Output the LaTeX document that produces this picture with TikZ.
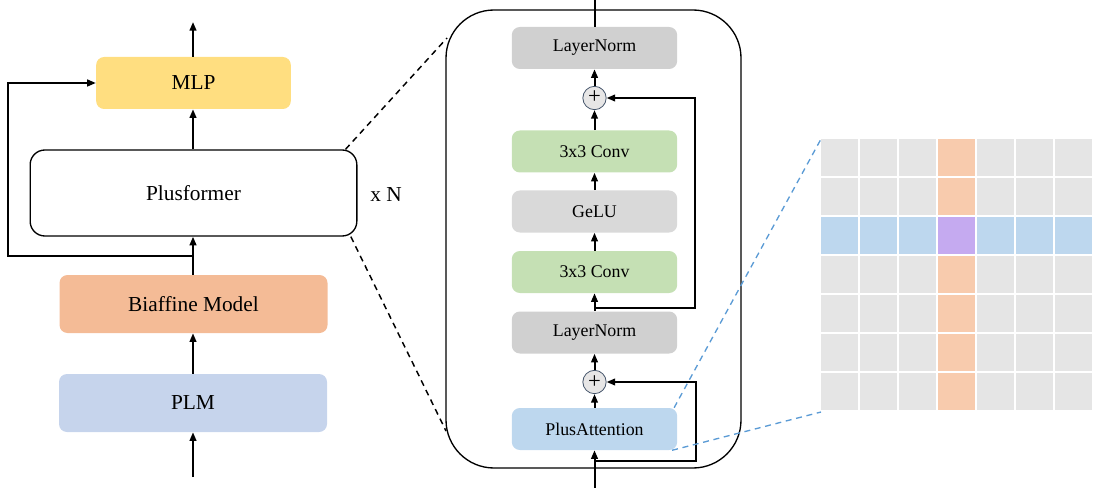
\documentclass[tikz,border=0pt]{standalone}
\usepackage{fontspec}
\setmainfont{Liberation Serif}
\usetikzlibrary{arrows.meta}
\definecolor{mlpY}{RGB}{255,222,128}
\definecolor{biafO}{RGB}{244,187,150}
\definecolor{plmB}{RGB}{198,212,236}
\definecolor{lnG}{RGB}{208,208,208}
\definecolor{geluG}{RGB}{217,217,217}
\definecolor{convG}{RGB}{197,224,180}
\definecolor{paB}{RGB}{189,215,238}
\definecolor{plusF}{RGB}{231,230,230}
\definecolor{plusD}{RGB}{68,84,106}
\definecolor{cellG}{RGB}{229,229,229}
\definecolor{cellO}{RGB}{248,203,173}
\definecolor{cellB}{RGB}{189,215,238}
\definecolor{cellP}{RGB}{197,170,240}
\definecolor{zoomB}{RGB}{91,155,213}
\begin{document}
\begin{tikzpicture}[x=0.75pt,y=-0.75pt,
  arr/.style={line width=1.5pt,-{Triangle[length=6.5pt,width=5pt]}},
  bigbox/.style={rounded corners=6pt,inner sep=0pt,font=\fontsize{16}{18}\selectfont},
  blk/.style={rounded corners=6pt,inner sep=0pt,minimum width=124pt,minimum height=31.5pt,font=\fontsize{13.4}{15}\selectfont},
  addop/.style={circle,draw=plusD,line width=0.6pt,fill=plusF,minimum size=17.5pt,inner sep=0pt,font=\fontsize{17}{17}\selectfont},
  zoomline/.style={dashed,line width=1pt,dash pattern=on 4.5pt off 3.5pt}]
\useasboundingbox (0,0) rectangle (1094,488);

% ---- left column: overall model ----
\node[bigbox,fill=mlpY,minimum width=146pt,minimum height=39pt] (mlp) at (193.5,83) {MLP};
\node[bigbox,draw,line width=1pt,fill=white,rounded corners=11pt,minimum width=245pt,minimum height=64.5pt] (pf) at (193.5,193) {Plusformer};
\node[bigbox,fill=biafO,minimum width=201pt,minimum height=43.5pt] (biaf) at (193.5,304) {Biaffine Model};
\node[bigbox,fill=plmB,minimum width=201pt,minimum height=43.5pt] (plm) at (193,403) {PLM};
\node[font=\fontsize{16}{18}\selectfont] (rep) at (386,195) {x N};

\coordinate (inL) at (193,477);
\coordinate (outL) at (193,22);
\coordinate (split) at (193,256);
\coordinate (skipL) at (8,256);

\draw[arr] (inL) -- (plm.south -| inL);
\draw[arr] (plm.north -| inL) -- (biaf.south -| inL);
\draw[arr] (biaf.north -| inL) -- (pf.south -| inL);
\draw[arr] (pf.north -| inL) -- (mlp.south -| inL);
\draw[arr] (mlp.north -| inL) -- (outL);
\draw[arr] (split) -- (skipL) |- (mlp.west);

% ---- middle: one Plusformer layer ----
\draw[line width=1pt,rounded corners=36pt] (446,10) rectangle (741,468);

\node[blk,fill=lnG] (ln1) at (594.5,48) {LayerNorm};
\node[addop] (add1) at (594.5,98) {\raisebox{0.6pt}{+}};
\node[blk,fill=convG] (conv1) at (594.5,151.5) {3x3 Conv};
\node[blk,fill=geluG] (gelu) at (594.5,211.5) {GeLU};
\node[blk,fill=convG] (conv2) at (594.5,272) {3x3 Conv};
\node[blk,fill=lnG] (ln2) at (594.5,332.5) {LayerNorm};
\node[addop] (add2) at (594.5,382) {\raisebox{0.6pt}{+}};
\node[blk,fill=paB] (pa) at (594.5,429) {PlusAttention};

\coordinate (inM) at (594.5,488);
\coordinate (outM) at (594.5,0);
\coordinate (r1) at (594.5,308);
\coordinate (r1c) at (695,308);
\coordinate (r2) at (594.5,461);
\coordinate (r2c) at (696,461);

\draw[arr] (inM) -- (pa.south);
\draw[arr] (pa.north) -- (add2.south);
\draw[arr] (add2.north) -- (ln2.south);
\draw[arr] (ln2.north) -- (conv2.south);
\draw[arr] (conv2.north) -- (gelu.south);
\draw[arr] (gelu.north) -- (conv1.south);
\draw[arr] (conv1.north) -- (add1.south);
\draw[arr] (add1.north) -- (ln1.south);
\draw[line width=1.5pt] (ln1.north) -- (outM);
\draw[arr] (r1) -- (r1c) |- (add1.east);
\draw[arr] (r2) -- (r2c) |- (add2.east);

% ---- zoom guides from the Plusformer block ----
\coordinate (frTop) at (447,38);
\coordinate (frBot) at (446,431);
\draw[zoomline,line width=1.1pt] ([xshift=-9pt]pf.north east) -- (frTop);
\draw[zoomline,line width=1.1pt] ([xshift=-5pt]pf.south east) -- (frBot);

% ---- attention pattern grid ----
\foreach \c in {0,...,6}{
  \foreach \r in {0,...,6}{
    \pgfmathsetmacro{\cx}{821+39*\c}
    \pgfmathsetmacro{\cy}{139+39*\r}
    \ifnum\c=3
      \ifnum\r=2 \def\cc{cellP}\else \def\cc{cellO}\fi
    \else
      \ifnum\r=2 \def\cc{cellB}\else \def\cc{cellG}\fi
    \fi
    \fill[\cc] (\cx,\cy) rectangle ++(37.4,37.4);
  }
}
\coordinate (gTL) at (821,139);
\coordinate (gBL) at (821,412);
\draw[zoomline,draw=zoomB] ([xshift=-2.5pt]pa.north east) -- (gTL);
\draw[zoomline,draw=zoomB] ([xshift=-4pt]pa.south east) -- (gBL);
\end{tikzpicture}
\end{document}
